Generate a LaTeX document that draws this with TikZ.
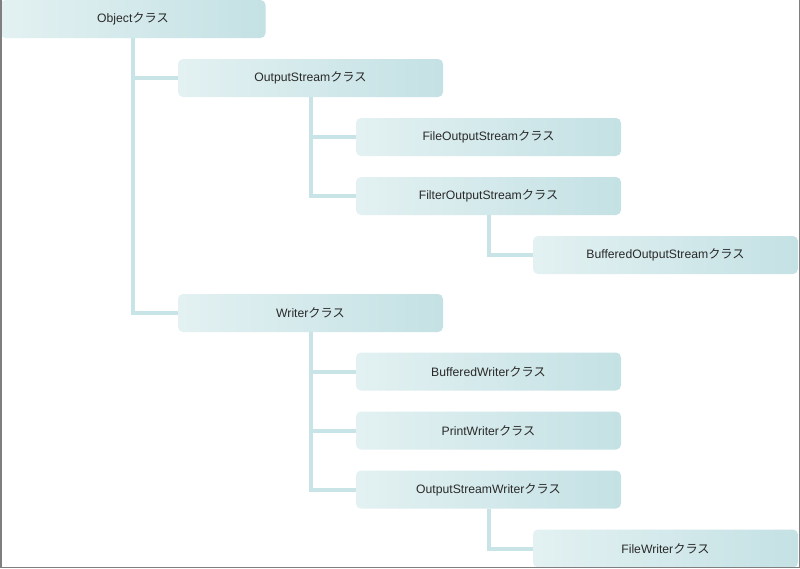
\documentclass[tikz,border=0pt]{standalone}
\usepackage{fontspec}
\setmainfont{Liberation Sans}
\newfontfamily\jpfont{Noto Sans CJK JP}
\usetikzlibrary{positioning}
\definecolor{boxleft}{HTML}{E3F1F2}
\definecolor{boxmid}{HTML}{E4F2F3}
\definecolor{boxright}{HTML}{C4E1E4}
\definecolor{linkcol}{HTML}{C8E4E7}
\definecolor{framecol}{HTML}{7F7F7F}
\definecolor{textcol}{HTML}{2A2A2A}
\newcommand{\cls}[1]{#1{\jpfont クラス}}
\tikzset{
  classbox/.style={rounded corners=5pt, left color=boxleft, middle color=boxmid,
    right color=boxright,
    minimum width=265pt, minimum height=38pt, inner sep=0pt,
    text=textcol, font=\fontsize{12.2}{14}\selectfont},
  link/.style={draw=linkcol, line width=4pt}
}
\begin{document}
\begin{tikzpicture}[x=1pt,y=-1pt]
  \useasboundingbox (0,0) rectangle (800,568);
  \fill[white] (0,0) rectangle (800,568);

  % class boxes
  \node[classbox] (obj) at (133,19) {\cls{Object}};
  \node[classbox] (os) at (310.5,78) {\cls{OutputStream}};
  \node[classbox] (fos) at (488.5,137) {\cls{FileOutputStream}};
  \node[classbox] (filt) at (488.5,196) {\cls{FilterOutputStream}};
  \node[classbox] (bos) at (665.5,255) {\cls{BufferedOutputStream}};
  \node[classbox] (wr) at (310.5,313) {\cls{Writer}};
  \node[classbox] (bwr) at (488.5,371.5) {\cls{BufferedWriter}};
  \node[classbox] (pwr) at (488.5,430.5) {\cls{PrintWriter}};
  \node[classbox] (oswr) at (488.5,489.5) {\cls{OutputStreamWriter}};
  \node[classbox] (fwr) at (665.5,548.5) {\cls{FileWriter}};

  % inheritance lines
  \draw[link] (obj.south) |- (os.west);
  \draw[link] (obj.south) |- (wr.west);
  \draw[link] (os.south) |- (fos.west);
  \draw[link] (os.south) |- (filt.west);
  \draw[link] (filt.south) |- (bos.west);
  \draw[link] (wr.south) |- (bwr.west);
  \draw[link] (wr.south) |- (pwr.west);
  \draw[link] (wr.south) |- (oswr.west);
  \draw[link] (oswr.south) |- (fwr.west);

  % frame
  \draw[framecol, line width=1.5pt] (0.75,0) -- (0.75,567.25) -- (799.25,567.25) -- (799.25,0);
\end{tikzpicture}
\end{document}
